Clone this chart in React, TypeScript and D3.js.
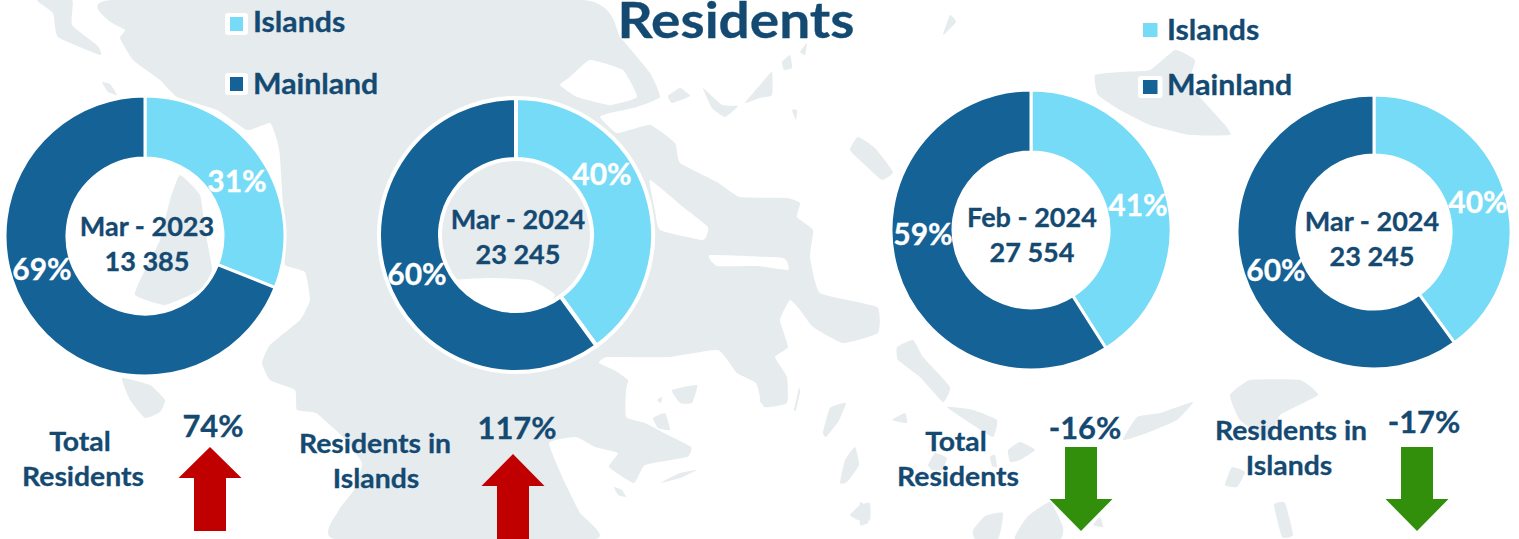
import * as d3 from "d3"
import React from 'react'

// values
const periods = ["Mar - 2023", "Mar - 2024", "Feb - 2024", "Mar - 2024"]
const totals = ["13 385", "23 245", "27 554", "23 245"]
const islandShare = [31, 40, 41, 40]
const mainlandShare = [69, 60, 59, 60]
const changeLabels = ["Total|Residents", "Residents in|Islands", "Total|Residents", "Residents in|Islands"]
const changes = [74, 117, -16, -17]

const navy = "#144a72"
const islandColor = "#76dbf7"
const mainlandColor = "#156296"
const up = "#c00000"
const down = "#318f0b"
const land = "#e6ebee"
const font = "Lato, Carlito, sans-serif"

// layout of the four rings
const rings = [
  { cx: 145, cy: 236, R: 140, r: 78, sw: 3, text: [147, 227, 262], isl: [237, 181], main: [42, 269] },
  { cx: 516, cy: 235, R: 137, r: 76, sw: 4, text: [518, 220, 255], isl: [602, 174], main: [417, 274] },
  { cx: 1031, cy: 230, R: 140, r: 78, sw: 3, text: [1032, 218, 253], isl: [1138, 205], main: [923, 234] },
  { cx: 1374, cy: 232, R: 137, r: 77, sw: 3, text: [1372, 222, 257], isl: [1478, 202], main: [1276, 270] },
]
const arrows = [
  { x: 210, y0: 447, y1: 531, neck: 478 },
  { x: 513, y0: 454, y1: 539, neck: 486 },
  { x: 1081, y0: 447, y1: 531, neck: 499 },
  { x: 1417, y0: 447, y1: 531, neck: 499 },
]
const changeText = [
  { x: 213, y: 426, lx: [80, 83], ly: [442, 477] },
  { x: 517, y: 428, lx: [375, 376], ly: [444, 479] },
  { x: 1085, y: 428, lx: [956, 958], ly: [442, 477] },
  { x: 1424, y: 422, lx: [1291, 1289], ly: [431, 466] },
]
const legends = [
  { x: 230, y: [24, 84], text: [22, 84], w: 13, label: 253, box: [true, true] },
  { x: 1143, y: [30, 87], text: [30, 85], w: 14.5, label: 1167, box: [false, true] },
]

// background map, rough outlines
const mainlandShape: [number, number][] = [
  [113,0],[108,20],[125,30],[120,38],[133,60],[160,80],[177,97],[217,110],[247,130],[270,123],[277,140],[280,157],
  [285,240],[285,265],[305,272],[310,300],[300,320],[270,345],[262,363],[270,380],[295,390],[297,410],
  [316,413],[343,437],[362,463],[354,490],[339,510],[335,539],[595,539],[580,513],[565,483],[549,443],
  [576,437],[595,447],[618,453],[609,467],[634,483],[645,465],[687,457],[691,447],[664,433],[645,423],[626,417],
  [626,390],[628,380],[614,370],[599,363],[607,357],[668,357],[718,350],[737,373],[756,383],[764,407],[787,403],
  [787,377],[775,357],[788,347],[780,320],[790,300],[800,310],[813,327],[843,343],[878,333],[877,307],[820,293],
  [810,257],[813,230],[797,217],[800,203],[787,198],[740,197],[717,182],[680,163],[675,143],[650,125],[617,133],
  [600,117],[610,113],[637,107],[660,97],[650,73],[620,37],[583,0],
]
const gulfs: [number, number][][] = [
  [[560,85],[570,77],[590,60],[623,70],[637,97],[610,105],[577,97]],
  [[650,180],[683,207],[708,227],[703,240],[660,230],[655,210]],
  [[710,255],[783,258],[788,270],[757,266],[717,266]],
  [[445,282],[490,278],[530,280],[555,295],[530,318],[460,318]],
]
const islands: [number, number][][] = [
  [[37,0],[53,13],[58,37],[100,55],[98,46],[72,25],[72,0]],
  [[102,82],[110,84],[117,95],[108,92]],
  [[180,175],[200,195],[205,230],[212,270],[200,290],[165,305],[135,295],[145,270],[160,240],[170,200]],
  [[122,378],[150,385],[165,400],[160,412],[145,418],[130,400]],
  [[668,96],[680,88],[690,96],[672,103]],
  [[703,88],[722,105],[738,106],[725,117],[712,108]],
  [[745,103],[760,85],[772,72],[772,95],[760,98]],
  [[782,62],[790,55],[792,68],[784,70]],
  [[800,52],[807,43],[805,55]],
  [[792,110],[797,110],[796,120]],
  [[850,150],[858,137],[875,148],[893,172],[882,180],[865,165]],
  [[943,35],[950,15],[956,22]],
  [[1095,75],[1120,72],[1150,70],[1175,50],[1195,60],[1190,85],[1225,125],[1230,135],[1190,135],[1150,125],[1120,110],[1098,95]],
  [[672,390],[697,385],[692,403],[680,403]],
  [[657,400],[662,397],[661,403]],
  [[653,418],[665,413],[670,430],[658,428]],
  [[660,483],[680,473],[697,470],[680,478]],
  [[614,487],[622,490],[626,497],[618,495]],
  [[794,410],[799,388],[800,392],[796,410]],
  [[823,432],[830,408],[846,403],[838,422],[826,437]],
  [[840,483],[845,460],[855,447],[859,465],[847,482]],
  [[850,515],[860,505],[870,503],[870,520],[858,520]],
  [[897,347],[913,340],[923,357],[950,387],[943,402],[920,377],[898,360]],
  [[947,407],[973,410],[997,420],[993,437],[970,423]],
  [[1008,450],[1020,442],[1035,450],[1020,460],[1010,462]],
  [[990,457],[995,455],[997,467],[992,466]],
  [[928,465],[935,453],[947,458],[942,470],[932,470]],
  [[892,420],[905,413],[907,423]],
  [[1193,402],[1160,413],[1137,417],[1123,440],[1147,433],[1177,420]],
  [[1015,539],[1027,517],[1050,502],[1063,527],[1060,539]],
  [[973,530],[985,516],[1003,513],[998,539],[975,539]],
  [[860,502],[870,510],[868,523],[860,525]],
  [[1093,525],[1100,517],[1103,527]],
  [[1230,395],[1250,380],[1300,380],[1318,395],[1280,415],[1270,440],[1240,420]],
  [[1225,485],[1232,467],[1245,472],[1237,487]],
  [[1274,505],[1285,503],[1293,535],[1282,537]],
  [[760,270],[775,290],[770,340],[768,395],[760,400]],
]

const Label = ({ x, y, size, sx = 1, fill = navy, anchor = "middle", children }: any) => (
  <text transform={`translate(${x},${y}) scale(${sx},1)`} dy=".35em" fontSize={size} fontFamily={font} fontWeight="700" fill={fill} stroke={fill} strokeWidth={0.3} textAnchor={anchor}>{children}</text>
)

export default function App() {
  const pie = d3.pie<number>().sort(null)
  const shape = d3.line().curve(d3.curveCardinalClosed.tension(0.6))
  return (
    <svg width={1519} height={539} style={{ position: "absolute", left: 0, top: 0, background: "#fff" }}>
      <path d={shape(mainlandShape) as string} fill={land} />
      {gulfs.map((s, i) => <path key={i} d={shape(s) as string} fill="#fff" />)}
      {islands.map((s, i) => <path key={i} d={shape(s) as string} fill={land} />)}
      <Label x={736} y={20} size={50} sx={1.1}>Residents</Label>

      {legends.map((l, i) => (
        <g key={i}>
          {[islandColor, mainlandColor].map((c, j) => (
            <g key={j}>
              {l.box[j] && <rect x={l.x - 5} y={l.y[j] - 11} width={l.w + 10} height={22} rx={3} fill="#fff" />}
              <rect x={l.x} y={l.y[j] - 7} width={l.w} height={14} fill={c} />
              <Label x={l.label} y={l.text[j]} size={28} sx={1.08} anchor="start">{j ? "Mainland" : "Islands"}</Label>
            </g>
          ))}
        </g>
      ))}

      {rings.map((g, i) => {
        const arc = d3.arc<d3.PieArcDatum<number>>().innerRadius(g.r).outerRadius(g.R)
        return (
          <g key={i}>
            <circle cx={g.cx} cy={g.cy} r={g.r} fill="#fff" fillOpacity={i < 2 ? 0 : 0.9} />
            <g transform={`translate(${g.cx},${g.cy})`}>
              {pie([islandShare[i], mainlandShare[i]]).map((d, j) => (
                <path key={j} d={arc(d) as string} fill={j ? mainlandColor : islandColor} stroke="#fff" strokeWidth={g.sw} />
              ))}
            </g>
            <Label x={g.text[0]} y={g.text[1]} size={26} sx={1.04}>{periods[i]}</Label>
            <Label x={g.text[0]} y={g.text[2]} size={26} sx={1.04}>{totals[i]}</Label>
            <Label x={g.isl[0]} y={g.isl[1]} size={30} fill="#fff">{islandShare[i]}%</Label>
            <Label x={g.main[0]} y={g.main[1]} size={30} fill="#fff">{mainlandShare[i]}%</Label>
          </g>
        )
      })}

      {arrows.map((a, i) => {
        const p = d3.path()
        const isUp = changes[i] > 0
        const tip = isUp ? a.y0 : a.y1
        const tail = isUp ? a.y1 : a.y0
        p.moveTo(a.x, tip)
        p.lineTo(a.x + 31.5, a.neck)
        p.lineTo(a.x + 16, a.neck)
        p.lineTo(a.x + 16, tail)
        p.lineTo(a.x - 16, tail)
        p.lineTo(a.x - 16, a.neck)
        p.lineTo(a.x - 31.5, a.neck)
        p.closePath()
        return <path key={i} d={p.toString()} fill={isUp ? up : down} />
      })}

      {changeText.map((t, i) => (
        <g key={i}>
          <Label x={t.x} y={t.y} size={30} sx={1.03}>{changes[i]}%</Label>
          {changeLabels[i].split("|").map((s, j) => (
            <Label key={j} x={t.lx[j]} y={t.ly[j]} size={27} sx={1.05}>{s}</Label>
          ))}
        </g>
      ))}
    </svg>
  )
}
